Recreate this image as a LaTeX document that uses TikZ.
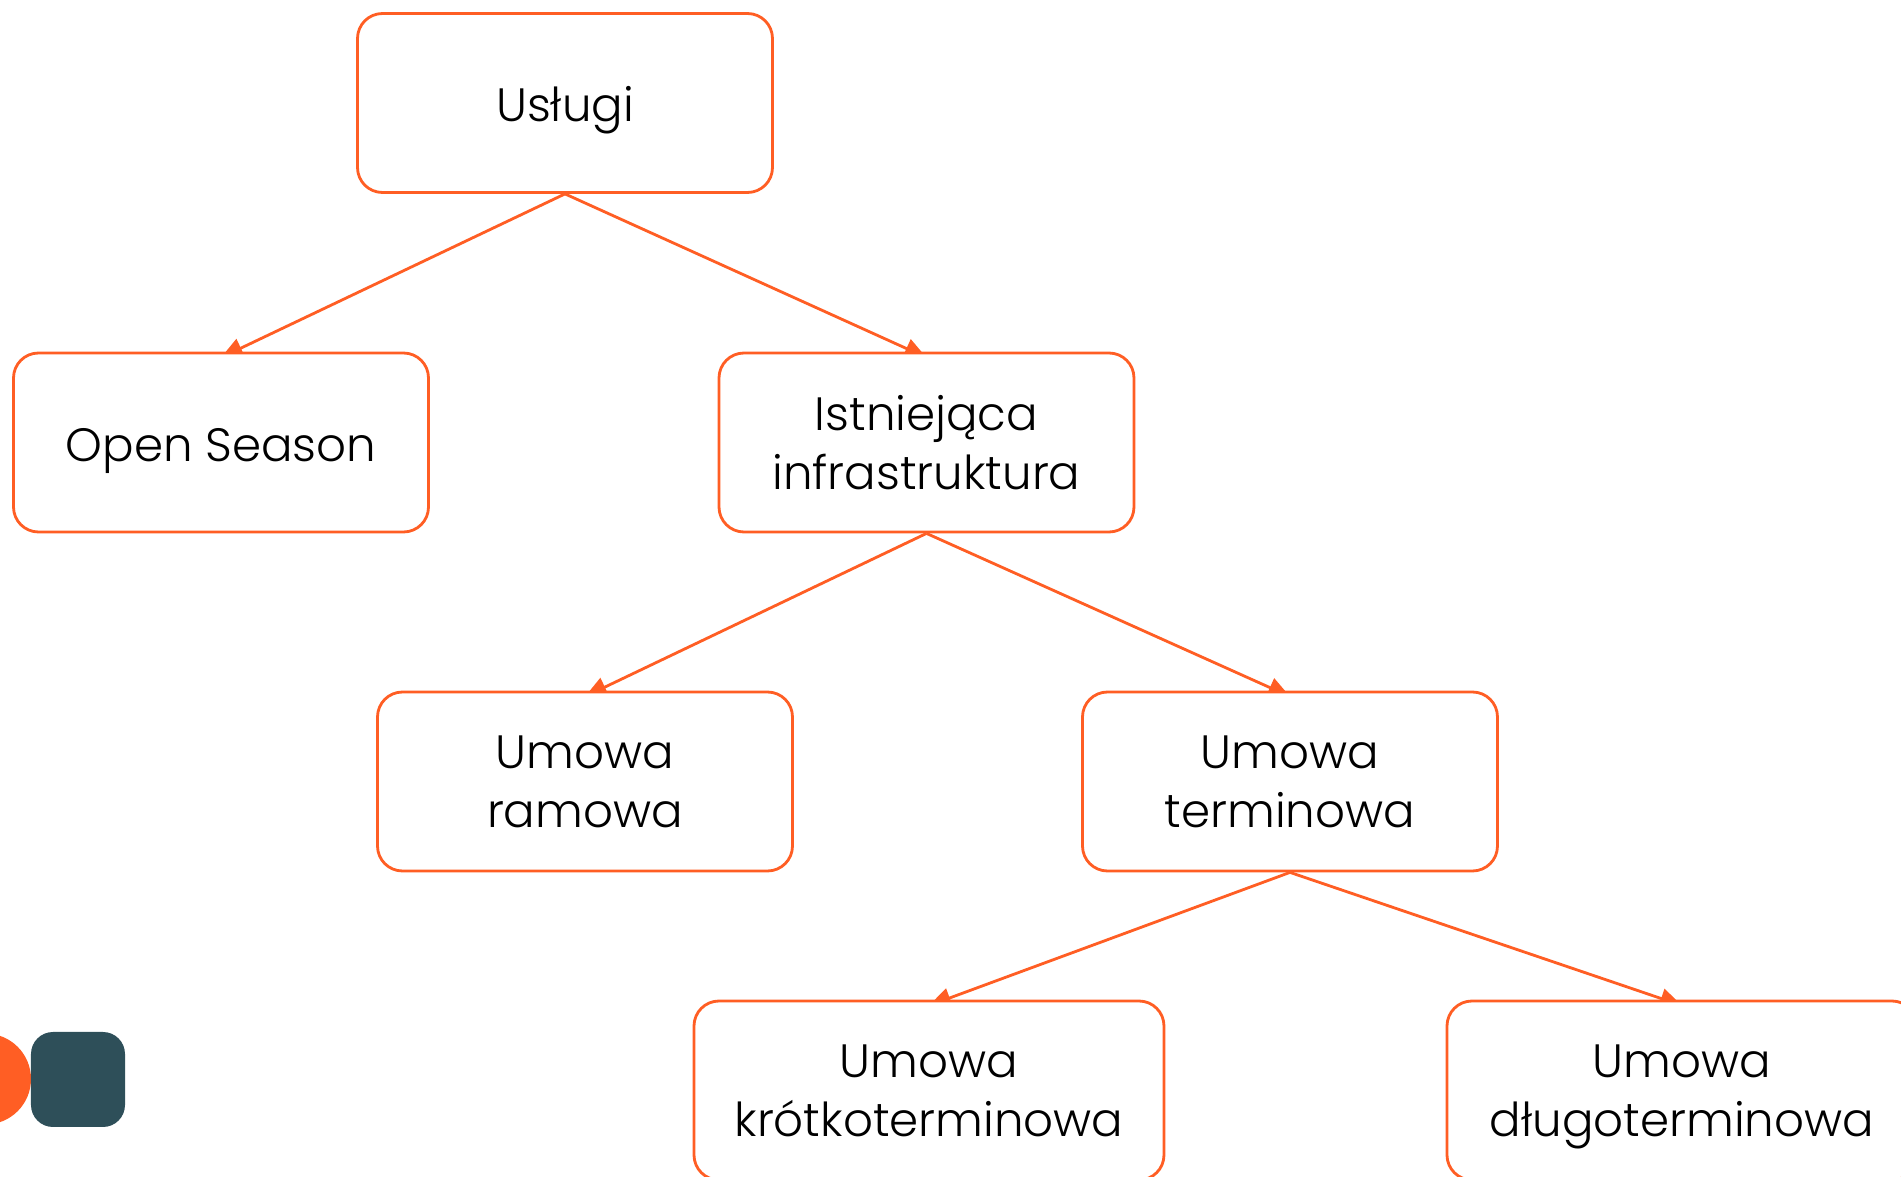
\documentclass[tikz,border=0pt]{standalone}
\usepackage{fontspec}
\setmainfont{Poppins}[UprightFont=* Light]
\usetikzlibrary{arrows.meta,backgrounds}
\definecolor{gazorange}{RGB}{255,94,36}
\definecolor{gazslate}{RGB}{46,79,89}

\begin{document}
\begin{tikzpicture}[
		box/.style={draw=gazorange, line width=0.8pt, fill=white, rounded corners=0.25cm,
			minimum width=4.15cm, minimum height=1.79cm, inner sep=0pt, align=center,
			text depth=0pt, font=\fontsize{13.3}{16.8}\selectfont},
		single/.style={box, text height=0.42cm, text depth=0.04cm},
		wide/.style={box, minimum width=4.7cm},
		link/.style={draw=gazorange, line width=0.8pt, -{Triangle[length=0.22cm,width=0.2cm]}}
	]
	\useasboundingbox (0,0) rectangle (19.01,11.77);
	\clip (0,0) rectangle (19.01,11.77);

	% tree of services
	\node[single] (uslugi) at (5.65,10.74) {Usługi};
	\node[single] (open) at (2.21,7.345) {Open Season};
	\node[box] (istn) at (9.265,7.345) {Istniejąca\\infrastruktura};
	\node[box] (ramowa) at (5.85,3.955) {Umowa\\ramowa};
	\node[box] (termin) at (12.9,3.955) {Umowa\\terminowa};
	\node[wide] (krotko) at (9.29,0.865) {Umowa\\krótkoterminowa};
	\node[wide] (dlugo) at (16.82,0.865) {Umowa\\długoterminowa};

	% connectors, behind the boxes
	\begin{scope}[on background layer]
		\draw[link] (uslugi.south) -- ([yshift=-0.06cm]open.north);
		\draw[link] (uslugi.south) -- ([yshift=-0.06cm]istn.north);
		\draw[link] (istn.south) -- ([yshift=-0.06cm]ramowa.north);
		\draw[link] (istn.south) -- ([yshift=-0.06cm]termin.north);
		\draw[link] (termin.south) -- ([yshift=-0.06cm]krotko.north);
		\draw[link] (termin.south) -- ([yshift=-0.06cm]dlugo.north);
	\end{scope}

	% logo in the corner
	\fill[gazorange] (-0.145,0.98) circle (0.455);
	\fill[gazslate, rounded corners=0.22cm] (0.31,0.5) rectangle (1.25,1.45);
\end{tikzpicture}
\end{document}
